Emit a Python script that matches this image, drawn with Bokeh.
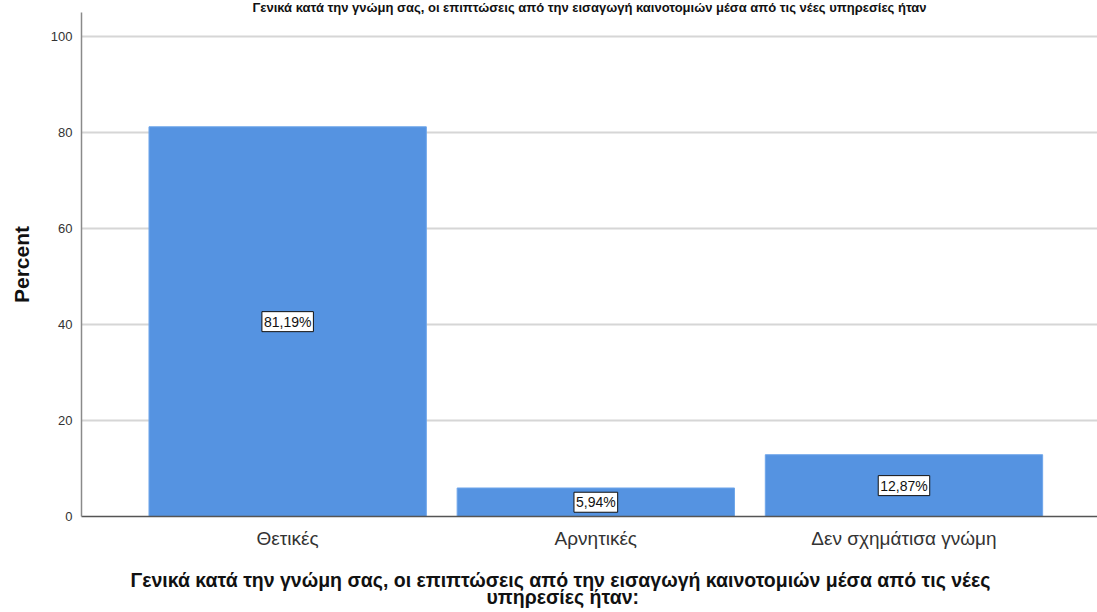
from bokeh.plotting import figure
from bokeh.models import ColumnDataSource, Label, FixedTicker, Range1d, Title
from bokeh.embed import file_html
from bokeh.resources import INLINE

categories = ["Θετικές", "Αρνητικές", "Δεν σχημάτισα γνώμη"]
percents = [81.19, 5.94, 12.87]
y_ticks = [0, 20, 40, 60, 80, 100]
x_title_lines = [
    "Γενικά κατά την γνώμη σας, οι επιπτώσεις από την εισαγωγή καινοτομιών μέσα από τις νέες",
    "υπηρεσίες ήταν:",
]
top_title = "Γενικά κατά την γνώμη σας, οι επιπτώσεις από την εισαγωγή καινοτομιών μέσα από τις νέες υπηρεσίες ήταν"
y_title = "Percent"

pos = list(range(1, len(categories) + 1))
bar_labels = [f"{v:.2f}".replace(".", ",") + "%" for v in percents]
mids = [v / 2 for v in percents]

src = ColumnDataSource(dict(x=pos, top=percents))

FONT = "Liberation Sans"

p = figure(width=1097, height=612, output_backend="svg", toolbar_location=None,
           x_range=Range1d(0.331, 3.628), y_range=Range1d(0, 105),
           min_border_left=81, min_border_right=0, min_border_top=12,
           min_border_bottom=96)
p.outline_line_color = None
p.background_fill_color = "white"
p.border_fill_color = "white"

p.vbar(x="x", top="top", width=0.9, source=src, fill_color="#5593E1",
       line_color="#6FA6EA", line_width=1)

# y axis
p.yaxis.ticker = FixedTicker(ticks=y_ticks)
p.yaxis.major_tick_line_color = None
p.yaxis.major_tick_out = 0
p.yaxis.minor_tick_line_color = None
p.yaxis.minor_tick_out = 0
p.yaxis.axis_line_color = "#8a8a8a"
p.yaxis.axis_line_width = 1.5
p.yaxis.major_label_text_font = FONT
p.yaxis.major_label_text_font_size = "13px"
p.yaxis.major_label_text_color = "#333333"
p.yaxis.major_label_standoff = 9
p.yaxis.axis_label = y_title
p.yaxis.axis_label_text_font = FONT
p.yaxis.axis_label_text_font_style = "bold"
p.yaxis.axis_label_text_font_size = "21px"
p.yaxis.axis_label_text_color = "#111111"
p.yaxis.axis_label_standoff = 15

# x axis
p.xaxis.ticker = FixedTicker(ticks=pos)
p.xaxis.major_label_overrides = {i: c for i, c in zip(pos, categories)}
p.xaxis.major_tick_line_color = None
p.xaxis.major_tick_out = 0
p.xaxis.minor_tick_line_color = None
p.xaxis.minor_tick_out = 0
p.xaxis.axis_line_color = "#555555"
p.xaxis.axis_line_width = 1.5
p.xaxis.major_label_text_font = FONT
p.xaxis.major_label_text_font_size = "19px"
p.xaxis.major_label_text_color = "#333333"
p.xaxis.major_label_standoff = 11
p.xaxis.axis_label = " "
p.xaxis.axis_label_text_font_size = "14px"
p.xaxis.axis_label_standoff = 0

p.xgrid.grid_line_color = None
p.ygrid.ticker = FixedTicker(ticks=y_ticks[1:])
p.ygrid.grid_line_color = "#d6d6d6"
p.ygrid.grid_line_width = 2

for xv, yv, t in zip(pos, mids, bar_labels):
    p.add_layout(Label(x=xv, y=yv, text=t, text_align="center", text_baseline="middle",
                       text_font=FONT, text_font_size="14px", text_color="#111111",
                       background_fill_color="white", border_line_color="#111111",
                       border_line_width=1, padding=2))

# x axis title (two lines)
p.add_layout(Title(text=x_title_lines[0], align="left", offset=49, standoff=-7,
                   text_font=FONT, text_font_style="bold", text_font_size="19.5px",
                   text_color="#111111"), "below")
p.add_layout(Title(text=x_title_lines[1], align="left", offset=405, standoff=-7,
                   text_font=FONT, text_font_style="bold", text_font_size="19.5px",
                   text_color="#111111"), "below")
# top title (in the reference it is cut off by the window top; kept small here)
p.add_layout(Title(text=top_title, align="center", standoff=-5,
                   text_font=FONT, text_font_style="bold", text_font_size="13px",
                   text_color="#111111"), "above")

html = file_html(p, INLINE)
html = html.replace("<head>",
                    "<head><style>html,body{margin:0;padding:0;overflow:hidden;}</style>", 1)
open("out.html", "w").write(html)
